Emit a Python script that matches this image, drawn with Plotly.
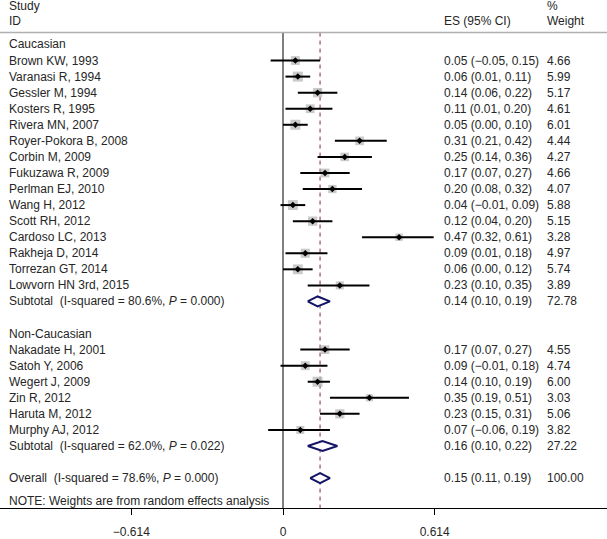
import plotly.graph_objects as go

# ---------------- data ----------------
cau_names = ["Brown KW, 1993", "Varanasi R, 1994", "Gessler M, 1994", "Kosters R, 1995",
             "Rivera MN, 2007", "Royer-Pokora B, 2008", "Corbin M, 2009", "Fukuzawa R, 2009",
             "Perlman EJ, 2010", "Wang H, 2012", "Scott RH, 2012", "Cardoso LC, 2013",
             "Rakheja D, 2014", "Torrezan GT, 2014", "Lowvorn HN 3rd, 2015"]
cau_es = [0.05, 0.06, 0.14, 0.11, 0.05, 0.31, 0.25, 0.17, 0.20, 0.04, 0.12, 0.47, 0.09, 0.06, 0.23]
cau_lo = [-0.05, 0.01, 0.06, 0.01, 0.00, 0.21, 0.14, 0.07, 0.08, -0.01, 0.04, 0.32, 0.01, 0.00, 0.10]
cau_hi = [0.15, 0.11, 0.22, 0.20, 0.10, 0.42, 0.36, 0.27, 0.32, 0.09, 0.20, 0.61, 0.18, 0.12, 0.35]
cau_w = [4.66, 5.99, 5.17, 4.61, 6.01, 4.44, 4.27, 4.66, 4.07, 5.88, 5.15, 3.28, 4.97, 5.74, 3.89]
cau_sub = {"label": "Subtotal  (I-squared = 80.6%, <i>P</i> = 0.000)", "es": 0.14, "lo": 0.10, "hi": 0.19, "w": 72.78}

non_names = ["Nakadate H, 2001", "Satoh Y, 2006", "Wegert J, 2009", "Zin R, 2012",
             "Haruta M, 2012", "Murphy AJ, 2012"]
non_es = [0.17, 0.09, 0.14, 0.35, 0.23, 0.07]
non_lo = [0.07, -0.01, 0.10, 0.19, 0.15, -0.06]
non_hi = [0.27, 0.18, 0.19, 0.51, 0.31, 0.19]
non_w = [4.55, 4.74, 6.00, 3.03, 5.06, 3.82]
non_sub = {"label": "Subtotal  (I-squared = 62.0%, <i>P</i> = 0.022)", "es": 0.16, "lo": 0.10, "hi": 0.22, "w": 27.22}

overall = {"label": "Overall  (I-squared = 78.6%, <i>P</i> = 0.000)", "es": 0.15, "lo": 0.11, "hi": 0.19, "w": 100.00}

tick_vals = [-0.614, 0, 0.614]
tick_text = ["\u22120.614", "0", "0.614"]

# ---------------- layout constants ----------------
W, H = 607, 539
TXT = "#262626"
FONT = "Liberation Sans, Arial, sans-serif"


def px(p):
    return p / W


def fmt(v):
    return f"{v:.2f}".replace("-", "\u2212")


def es_text(e, l, h):
    return f"{fmt(e)} ({fmt(l)}, {fmt(h)})"


# row assignments
rows = []  # (kind, label, es, lo, hi, w, row)
r = 0
rows.append(("group", "Caucasian", None, None, None, None, r)); r += 1
for n, e, l, h, w in zip(cau_names, cau_es, cau_lo, cau_hi, cau_w):
    rows.append(("study", n, e, l, h, w, r)); r += 1
rows.append(("sub", cau_sub["label"], cau_sub["es"], cau_sub["lo"], cau_sub["hi"], cau_sub["w"], r)); r += 2
rows.append(("group", "Non-Caucasian", None, None, None, None, r)); r += 1
for n, e, l, h, w in zip(non_names, non_es, non_lo, non_hi, non_w):
    rows.append(("study", n, e, l, h, w, r)); r += 1
rows.append(("sub", non_sub["label"], non_sub["es"], non_sub["lo"], non_sub["hi"], non_sub["w"], r)); r += 2
rows.append(("sub", overall["label"], overall["es"], overall["lo"], overall["hi"], overall["w"], r)); r += 1
note_row = r + 0.45

fig = go.Figure()

studies = [x for x in rows if x[0] == "study"]
subs = [x for x in rows if x[0] == "sub"]

# grey weight squares
fig.add_trace(go.Scatter(
    x=[s[2] for s in studies], y=[s[6] for s in studies], mode="markers",
    marker=dict(symbol="square", size=[4.1 * (s[5] ** 0.5) for s in studies],
                color="#b4b4b4", line=dict(width=0)),
    hoverinfo="skip", showlegend=False))

# CI lines
cx, cy = [], []
for s in studies:
    cx += [s[3], s[4], None]
    cy += [s[6], s[6], None]
fig.add_trace(go.Scatter(x=cx, y=cy, mode="lines", line=dict(color="black", width=2),
                         hoverinfo="skip", showlegend=False))

# center points
fig.add_trace(go.Scatter(
    x=[s[2] for s in studies], y=[s[6] for s in studies], mode="markers",
    marker=dict(symbol="diamond", size=5, color="black"),
    hoverinfo="skip", showlegend=False))

# diamonds
hh = 0.31
for s in subs:
    e, l, h, rr = s[2], s[3], s[4], s[6]
    fig.add_trace(go.Scatter(
        x=[l, e, h, e, l], y=[rr, rr - hh, rr, rr + hh, rr], mode="lines",
        line=dict(color="#141466", width=2), fill="toself", fillcolor="white",
        hoverinfo="skip", showlegend=False))

# rows in y units
y_top = -45 / 16.25
y_bot = (514 - 45) / 16.25
header_line_row = (33 - 45) / 16.25

# header line
fig.add_shape(type="line", xref="paper", yref="y", x0=0, x1=1,
              y0=header_line_row, y1=header_line_row, line=dict(color="#b0b0b0", width=1.5))
# zero line
fig.add_shape(type="line", xref="x", yref="y", x0=0, x1=0, y0=header_line_row, y1=y_bot,
              line=dict(color="black", width=1), layer="below")
# overall dashed line
fig.add_shape(type="line", xref="x", yref="y", x0=overall["es"], x1=overall["es"],
              y0=header_line_row, y1=y_bot, line=dict(color="#7a2a3a", width=1, dash="4px,4px"),
              layer="below")

# text annotations
def ann(xp, yv, text, anchor="left"):
    fig.add_annotation(xref="paper", yref="y", x=px(xp), y=yv, text=text, showarrow=False,
                       xanchor=anchor, yanchor="middle", align="left",
                       font=dict(family=FONT, size=12, color=TXT), borderpad=0)

ann(8, (6.5 - 45) / 16.25, "Study")
ann(8, (21 - 45) / 16.25, "ID")
ann(443, (21 - 45) / 16.25, "ES (95% CI)")
ann(546, (6 - 45) / 16.25, "%")
ann(546, (21 - 45) / 16.25, "Weight")

for row in rows:
    kind, label, e, l, h, w, rr = row
    ann(8, rr, label)
    if kind != "group":
        ann(443, rr, es_text(e, l, h))
        ann(546, rr, f"{w:.2f}")

ann(8, note_row, "NOTE: Weights are from random effects analysis")

# axis mapping: pixel = 283 + 247 * v
x0 = (0 - 283) / 247
x1 = (W - 283) / 247

fig.update_layout(
    width=W, height=H,
    margin=dict(l=0, r=0, t=0, b=25),
    paper_bgcolor="white", plot_bgcolor="white",
    showlegend=False,
    xaxis=dict(range=[x0, x1], showgrid=False, zeroline=False, showline=True,
               linecolor="black", linewidth=1, ticks="outside", ticklen=6, tickwidth=1,
               tickcolor="black", tickvals=tick_vals, ticktext=tick_text,
               tickfont=dict(family=FONT, size=12, color=TXT), ticklabelstandoff=7,
               fixedrange=True),
    yaxis=dict(range=[y_bot, y_top], showgrid=False, zeroline=False, showline=False,
               showticklabels=False, ticks="", fixedrange=True),
)

fig.write_html("out.html", config={"displayModeBar": False},
               post_script="document.body.style.margin='0';document.body.style.overflow='hidden';")
